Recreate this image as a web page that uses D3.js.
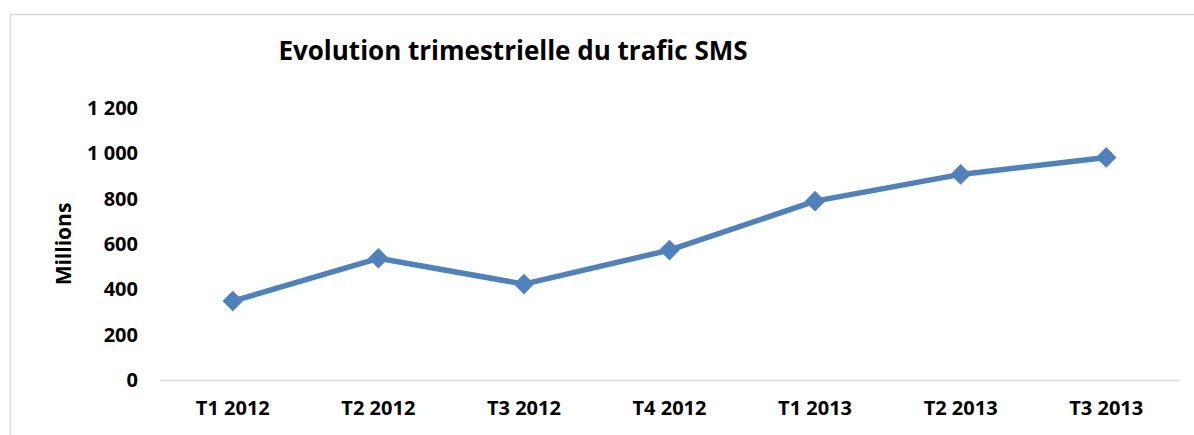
<!DOCTYPE html>
<html>
<head>
<meta charset="utf-8">
<script src="https://cdn.jsdelivr.net/npm/d3@7"></script>
<style>
body{margin:0;background:#fff;}
text{font-family:"Open Sans","Liberation Sans",sans-serif;font-weight:bold;fill:#000;}
</style>
</head>
<body>
<div class="chart"></div>
<script>
// trafic SMS par trimestre (millions)
var trimestres=["T1 2012","T2 2012","T3 2012","T4 2012","T1 2013","T2 2013","T3 2013"];
var trafic=[348,537,423,573,789,907,982];
var yTicks=[0,200,400,600,800,1000,1200];

var width=1194;
var height=435;
var svg=d3.select('div.chart')
		.append('svg')
		.attr('width',width)
		.attr('height',height);

// cadre
svg.append('path')
	.attr('d','M10.5,'+height+'V14.5H'+width)
	.attr('fill','none')
	.attr('stroke','#d9d9d9')
	.attr('stroke-width',1.5);

var xScale=d3.scaleBand()
			.domain(trimestres)
			.range([160,1179]);
var yScale=d3.scaleLinear()
			.domain([0,1200])
			.range([380,108]);

// axe x
let gx=svg.append('g')
	.attr('transform','translate(0,380)')
	.call(d3.axisBottom(xScale).tickSize(0).tickPadding(21));
gx.select('.domain').attr('stroke','#d9d9d9').attr('stroke-width',1.5);
gx.selectAll('text').attr('font-size','20px').attr('dy','0.71em');

// axe y
let gy=svg.append('g')
	.attr('transform','translate(138,0)')
	.call(d3.axisLeft(yScale)
			.tickValues(yTicks)
			.tickSize(0)
			.tickPadding(0)
			.tickFormat(function(d){
				return d3.format(',')(d).replace(',',' ');
			})
	);
gy.select('.domain').remove();
gy.selectAll('text').attr('font-size','20px');

svg.append('text')
	.attr('transform','translate(71,244) rotate(-90)')
	.attr('text-anchor','middle')
	.attr('font-size','21px')
	.text('Millions');

var line=d3.line()
		.x(function(d,i){return xScale(trimestres[i])+xScale.bandwidth()/2;})
		.y(function(d){return yScale(d);});

svg.append('path')
	.datum(trafic)
	.attr('d',line)
	.attr('fill','none')
	.attr('stroke','#4f81bd')
	.attr('stroke-width',5.5)
	.attr('stroke-linejoin','round');

svg.selectAll('path.pt')
	.data(trafic)
	.enter()
	.append('path')
	.attr('class','pt')
	.attr('fill','#4f81bd')
	.attr('d',d3.symbol().type(d3.symbolDiamond2).size(270))
	.attr('transform',function(d,i){
		return 'translate('+(xScale(trimestres[i])+xScale.bandwidth()/2)+','+yScale(d)+')';
	});

svg.append('text')
	.attr('x',513)
	.attr('y',60)
	.attr('text-anchor','middle')
	.attr('font-size','26px')
	.text('Evolution trimestrielle du trafic SMS');
</script>
</body>
</html>
